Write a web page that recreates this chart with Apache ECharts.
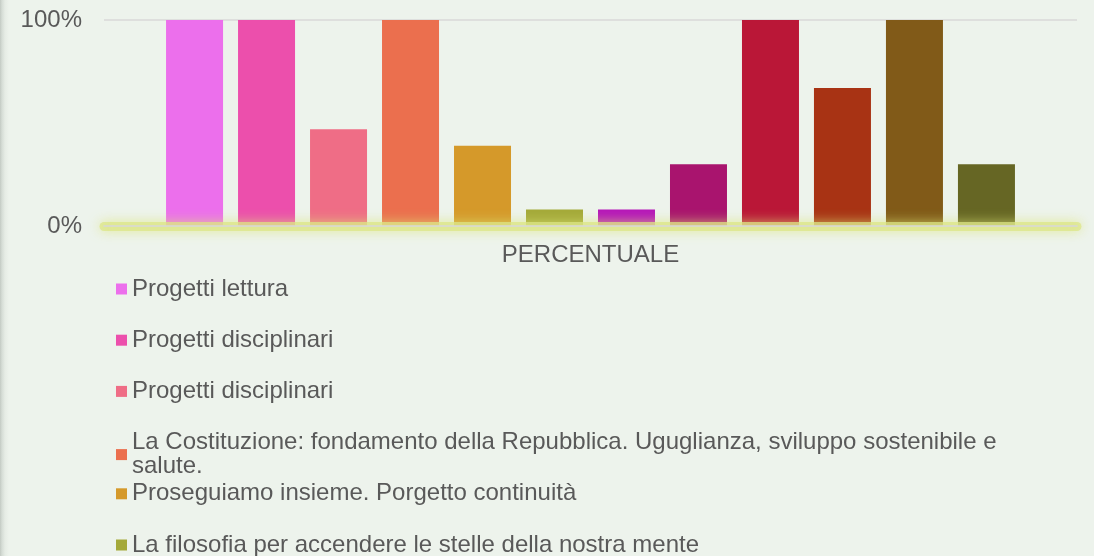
<!DOCTYPE html>
<html>
<head>
<meta charset="utf-8">
<script src="https://cdn.jsdelivr.net/npm/echarts@6/dist/echarts.min.js"></script>
<style>
  html, body { margin: 0; padding: 0; }
  body {
    width: 1094px; height: 556px; overflow: hidden;
    background: linear-gradient(to right, #c3cac3 0px, #d6ddd6 2px, #e6ece5 5px, #edf3ec 9px, #edf3ec 100%);
  }
  #chart { width: 1094px; height: 556px; }
</style>
</head>
<body>
<div id="chart"></div>
<script>
// ---- data ----
const categories = ['PERCENTUALE'];
const seriesNames = [
  'Progetti lettura',
  'Progetti disciplinari',
  'Progetti disciplinari ',
  'La Costituzione: fondamento della Repubblica. Uguglianza, sviluppo sostenibile e salute.',
  'Proseguiamo insieme. Porgetto continuità',
  'La filosofia per accendere le stelle della nostra mente',
  'Progetto 7',
  'Progetto 8',
  'Progetto 9',
  'Progetto 10',
  'Progetto 11',
  'Progetto 12'
];
const seriesValues = [100, 100, 47, 100, 39, 8, 8, 30, 100, 67, 100, 30];
const seriesColors = ['#EC6FEC', '#EC4FAC', '#EF6D86', '#EB6F4E', '#D5992A', '#A4A939',
                      '#B617B9', '#A9146E', '#BA1737', '#A83314', '#815A18', '#666624'];
const yTickLabels = ['0%', '100%'];
const visibleLegendCount = 6;

// ---- chart ----
const FONT = "'Liberation Sans', Arial, sans-serif";
const TEXT = '#595959';
const FS = 24;
const chart = echarts.init(document.getElementById('chart'), null, { renderer: 'canvas' });

const series = seriesNames.map((name, i) => ({
  type: 'bar',
  name: name,
  data: [seriesValues[i]],
  barWidth: 57,
  barGap: '26.3%',
  itemStyle: { color: seriesColors[i] },
  xAxisIndex: 0,
  yAxisIndex: 0,
  z: 2
}));

const legendCenter0 = 289, legendStep = 51.2;
const legends = seriesNames.slice(0, visibleLegendCount).map((name, i) => ({
  data: [name],
  orient: 'vertical',
  left: 116,
  top: legendCenter0 + i * legendStep - 12,
  padding: 0,
  icon: 'rect',
  itemWidth: 11,
  itemHeight: 11,
  selectedMode: false,
  formatter: n => n.replace(' e salute.', ' e\nsalute.'),
  textStyle: { fontFamily: FONT, fontSize: FS, color: TEXT, height: 24, lineHeight: 24 }
}));

chart.setOption({
  backgroundColor: 'transparent',
  animation: false,
  grid: { left: 104, right: 17, top: 20, bottom: 330, containLabel: false },
  legend: legends,
  xAxis: [
    {
      type: 'category',
      data: categories,
      position: 'bottom',
      z: 5,
      axisTick: { show: false },
      axisLine: {
        show: true,
        lineStyle: {
          color: 'rgba(220,230,135,0.75)',
          width: 9,
          cap: 'round',
          shadowBlur: 12,
          shadowColor: 'rgba(220,230,120,1)'
        }
      },
      axisLabel: { fontFamily: FONT, fontSize: FS, color: TEXT, margin: 17 },
      splitLine: { show: false }
    },
    {
      type: 'category',
      data: categories,
      position: 'bottom',
      z: 6,
      axisTick: { show: false },
      axisLabel: { show: false },
      axisLine: { show: true, lineStyle: { color: '#D9D9D9', width: 1.5 } },
      splitLine: { show: false }
    }
  ],
  yAxis: {
    type: 'value',
    min: 0,
    max: 100,
    interval: 100,
    axisLine: { show: false },
    axisTick: { show: false },
    axisLabel: {
      fontFamily: FONT, fontSize: FS, color: TEXT, margin: 22,
      formatter: v => yTickLabels[Math.round(v / 100)]
    },
    splitLine: { lineStyle: { color: '#D9D9D9', width: 1.5 } }
  },
  series: series
});
</script>
</body>
</html>
